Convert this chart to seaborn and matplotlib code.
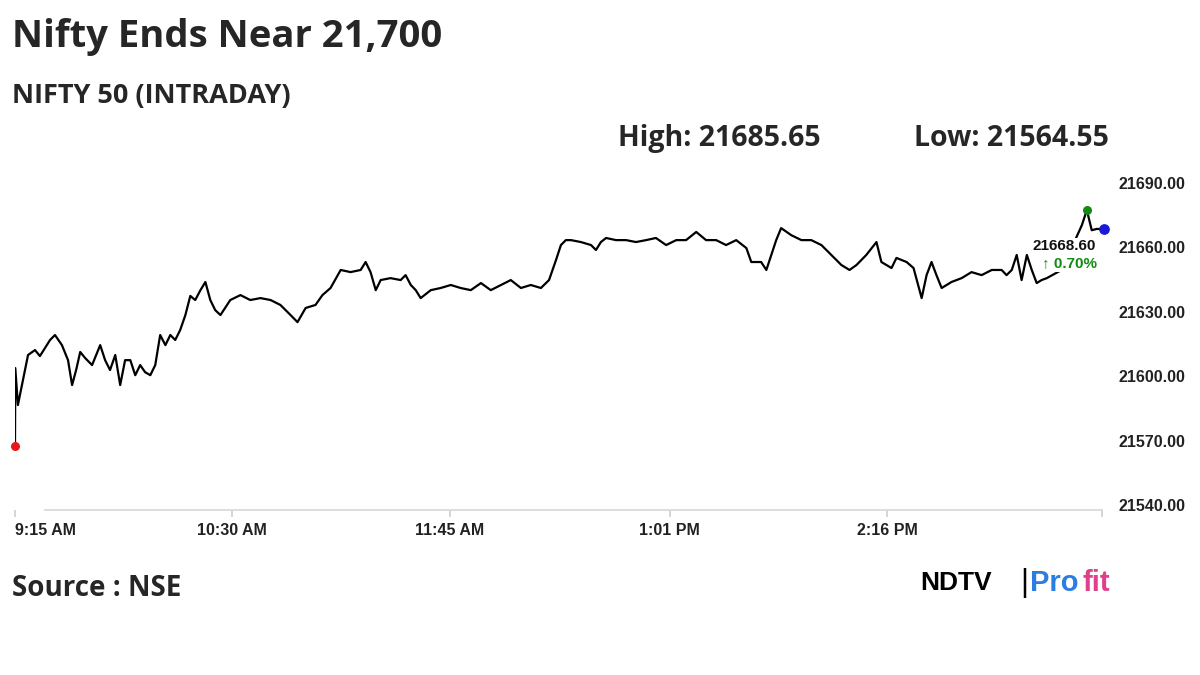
import numpy as np
import pandas as pd
import matplotlib
matplotlib.use('Agg')
import matplotlib.pyplot as plt
import seaborn as sns

# === Data (minutes after 9:15, NIFTY level) ===
minutes = [0, 0.1, 1, 2.4, 4.5, 6.9, 8.6, 12.1, 13.8, 16.2, 18.3, 19.7, 21.1, 22.5, 24.2, 26.6,
           29.4, 31.1, 32.8, 34.6, 36.3, 38, 39.8, 41.5, 43.2, 44.9, 46.7, 48.4, 50.1, 51.9,
           53.6, 55.3, 57, 58.8, 60.5, 62.2, 64, 65.7, 67.4, 69.1, 70.9, 74.3, 77.8, 81.2,
           84.7, 88.2, 91.6, 95.1, 97.5, 100.3, 103.7, 106.1, 108.9, 112.4, 115.8, 119.3, 121,
           122.7, 124.5, 126.2, 129.6, 133.1, 134.8, 136.6, 138.3, 140, 143.5, 146.9, 150.4,
           153.8, 157.3, 160.8, 164.2, 167.7, 171.1, 174.6, 178, 181.5, 184.3, 186.7, 188.4,
           190.1, 191.9, 195.3, 198.8, 200.5, 202.2, 204, 207.4, 210.9, 214.3, 217.8, 221.2,
           224.7, 228.2, 231.6, 235.1, 238.5, 242, 245.4, 248.9, 252.4, 254.1, 257.5, 259.3,
           261, 262.7, 264.4, 267.9, 271.4, 274.8, 278.3, 281.7, 285.2, 288, 290.4, 293.8,
           297.3, 299, 302.5, 304.2, 307.7, 310.1, 312.9, 314.6, 316.3, 318, 319.8, 323.2,
           326.7, 330.1, 333.6, 337.1, 340.5, 342.2, 344, 345.7, 347.4, 349.2, 350.9, 352.6,
           354.3, 356.1, 361.2, 366.4, 368.2, 369.9, 371.6, 373.3, 375.8]
nifty = [21567.5, 21603.8, 21586.6, 21595.9, 21609.9, 21612.2, 21609.4, 21616.9, 21619.2,
         21614.5, 21607.5, 21595.9, 21602.9, 21611.3, 21608.5, 21605.2, 21614.5, 21607.5,
         21602.9, 21609.9, 21595.9, 21607.5, 21607.5, 21600.5, 21605.2, 21601.9, 21600.5,
         21605.2, 21619.2, 21614.5, 21619.2, 21616.9, 21621.5, 21628.5, 21637.4, 21635.5,
         21640.1, 21643.9, 21635.5, 21630.8, 21628.5, 21635.5, 21637.8, 21635.5, 21636.4,
         21635.5, 21633.2, 21628.5, 21625.2, 21631.8, 21633.2, 21637.8, 21641.1, 21649.5,
         21648.5, 21649.5, 21653.2, 21648.5, 21640.1, 21644.8, 21645.7, 21644.8, 21647.1,
         21642.5, 21640.1, 21636.4, 21640.1, 21641.1, 21642.5, 21641.1, 21640.1, 21643.4,
         21640.1, 21642.5, 21644.8, 21641.1, 21642.5, 21641.1, 21644.8, 21654.1, 21661.1,
         21663.4, 21663.4, 21662.5, 21661.1, 21658.8, 21662.5, 21664.4, 21663.4, 21663.4,
         21662.5, 21663.4, 21664.4, 21661.1, 21663.4, 21663.4, 21667.2, 21663.4, 21663.4,
         21661.1, 21663.4, 21659.7, 21653.2, 21653.2, 21649.5, 21656.5, 21663.4, 21669.0,
         21665.7, 21663.4, 21663.4, 21661.1, 21656.5, 21651.8, 21649.5, 21651.8, 21656.5,
         21662.5, 21653.2, 21650.4, 21655.1, 21653.2, 21650.4, 21636.4, 21647.1, 21653.2,
         21647.1, 21641.1, 21643.9, 21645.7, 21648.5, 21647.1, 21649.5, 21649.5, 21647.1,
         21649.5, 21656.5, 21644.8, 21656.5, 21649.5, 21643.4, 21644.8, 21645.7, 21649.5,
         21665.0, 21670.4, 21677.4, 21668.0, 21668.6, 21668.6]

tick_minutes = [0, 75, 150, 226, 301]
tick_labels = ['9:15 AM', '10:30 AM', '11:45 AM', '1:01 PM', '2:16 PM']
y_ticks = [21540, 21570, 21600, 21630, 21660, 21690]

df = pd.DataFrame({'minute': minutes, 'nifty': nifty})

sns.set_theme(style='white')
plt.rcParams['font.family'] = ['Liberation Sans', 'DejaVu Sans']

fig = plt.figure(figsize=(12, 6.75), dpi=100)
ax = fig.add_axes([0.0125, 0.2444, 0.9055, 0.5163])

sns.lineplot(data=df, x='minute', y='nifty', ax=ax, color='black', linewidth=1.6)

# marker dots
ax.scatter([minutes[0]], [nifty[0]], color='#e8181a', s=30, zorder=5, clip_on=False)
i_hi = int(np.argmax(nifty))
ax.scatter([minutes[i_hi]], [nifty[i_hi]], color='#138a13', s=30, zorder=5, clip_on=False)
ax.scatter([minutes[-1]], [nifty[-1]], color='#1a1ad6', s=45, zorder=5, clip_on=False)

ax.set_xlim(0, 375)
ax.set_ylim(21537.7, 21700)
ax.set_xticks(tick_minutes + [375])
ax.set_xticklabels(tick_labels + [''], fontsize=11.5, fontweight='bold', color='#222222')
ax.get_xticklabels()[0].set_horizontalalignment('left')
ax.get_xticklabels()[0].set_x(-1)
ax.set_yticks(y_ticks)
ax.set_yticklabels([f'{v:.2f}' for v in y_ticks], fontsize=11.5, fontweight='bold', color='#222222')
ax.yaxis.tick_right()
ax.tick_params(axis='y', length=0, pad=12)
ax.tick_params(axis='x', length=5, color='#d0d0d0', bottom=True, pad=4)
for s in ['top', 'left', 'right']:
    ax.spines[s].set_visible(False)
ax.spines['bottom'].set_color('#d8d8d8')
ax.spines['bottom'].set_bounds(10.5, 375)
ax.set_xlabel('')
ax.set_ylabel('')

# last value label
ax.text(373, 21660.5, f'{nifty[-1]:.2f}', ha='right', va='center', fontsize=11, fontweight='bold',
        color='#111111', bbox=dict(facecolor='white', edgecolor='none', pad=1), zorder=6)
ax.text(373.5, 21652.5, '\u2191 0.70%', ha='right', va='center', fontsize=11, fontweight='bold',
        color='#138a13', bbox=dict(facecolor='white', edgecolor='none', pad=1), zorder=6)

# === Text ===
fig.text(0.01, 0.945, 'Nifty Ends Near 21,700', fontsize=27.5, fontweight='bold',
         family=['Open Sans', 'DejaVu Sans'], va='center')
fig.text(0.01, 0.858, 'NIFTY 50 (INTRADAY)', fontsize=19.5, fontweight='bold',
         family=['Open Sans', 'DejaVu Sans'], va='center')
fig.text(0.515, 0.795, 'High: 21685.65', fontsize=20.5, fontweight='bold',
         family=['Open Sans', 'DejaVu Sans'], va='center')
fig.text(0.762, 0.795, 'Low: 21564.55', fontsize=20.5, fontweight='bold',
         family=['Open Sans', 'DejaVu Sans'], va='center')
fig.text(0.01, 0.128, 'Source : NSE', fontsize=20, fontweight='bold',
         family=['Open Sans', 'DejaVu Sans'], va='center')

# logo
fig.text(0.767, 0.136, 'NDTV', fontsize=19, fontweight='bold', color='black', va='center')
fig.text(0.850, 0.136, '|', fontsize=22, color='black', va='center')
fig.text(0.858, 0.136, 'Pro', fontsize=21, fontweight='bold', color='#2a7de1', va='center')
fig.text(0.902, 0.136, 'fit', fontsize=21, fontweight='bold', color='#e0408a', va='center')

plt.savefig('out.png', dpi=100)
